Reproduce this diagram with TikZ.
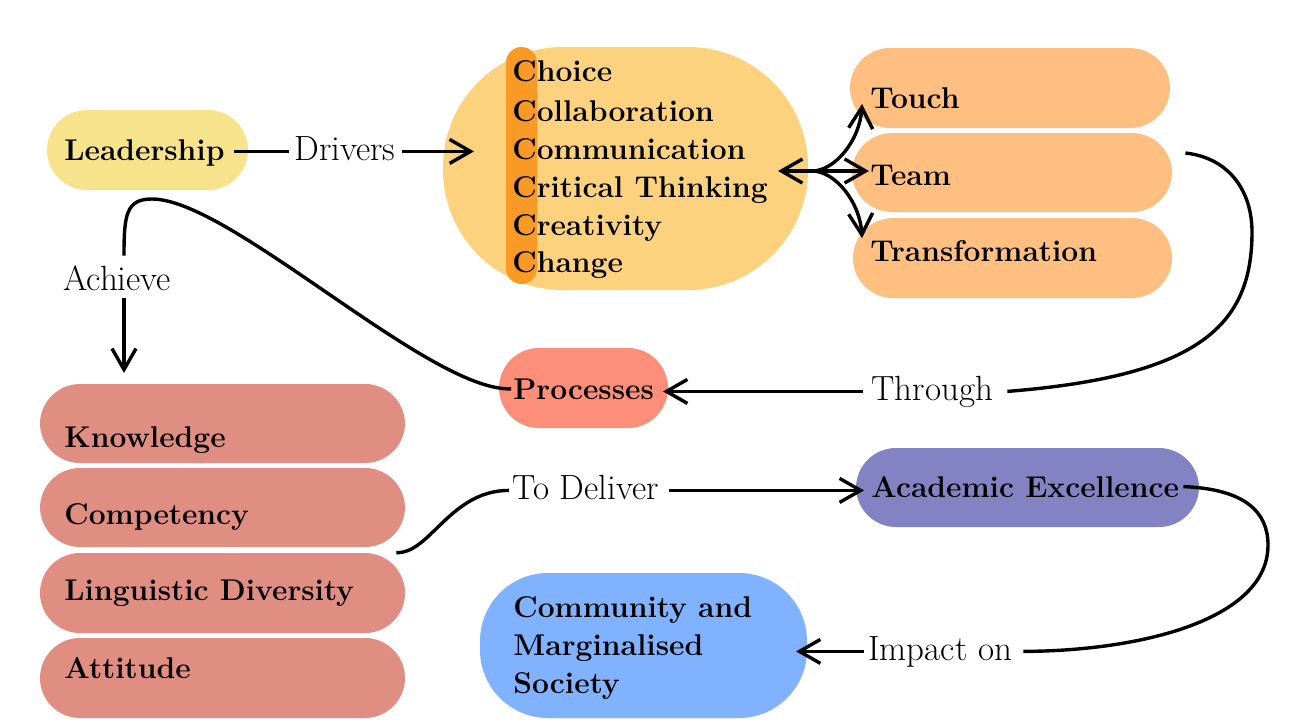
\documentclass[tikz,border=0pt]{standalone}
\usepackage{fontspec}
\usetikzlibrary{arrows.meta}
\definecolor{leadcol}{HTML}{F7E38B}
\definecolor{ccol}{HTML}{FDD27F}
\definecolor{stripcol}{HTML}{F99A26}
\definecolor{tcol}{HTML}{FFBF80}
\definecolor{proccol}{HTML}{FD8F7A}
\definecolor{stackcol}{HTML}{E08E82}
\definecolor{acadcol}{HTML}{8383C3}
\definecolor{commcol}{HTML}{80B2FF}
\tikzset{
  pill/.style={rectangle, inner sep=0pt, draw=none, rounded corners=#1},
  pill/.default=20pt,
  btxt/.style={anchor=base west, inner sep=0pt, font=\fontsize{15}{19}\selectfont\bfseries},
  ltxt/.style={anchor=base west, inner sep=0pt, text height=12pt, text depth=3.4pt, font=\fontsize{17.5}{20}\selectfont},
  conn/.style={line width=1.7pt, black},
  arr/.style={conn, -{Straight Barb[length=10.5pt,width=12pt]}},
}
\begin{document}
\begin{tikzpicture}[x=0.5pt,y=-0.5pt]
\useasboundingbox (0,0) rectangle (1311,724);
% boxes
\node[pill, fill=leadcol, minimum width=100.5pt, minimum height=40pt] (leadb) at (147.5,150) {};
\node[pill=60pt, fill=ccol, minimum width=182.5pt, minimum height=121.5pt] (cbox) at (625.5,168.5) {};
\node[pill=7.75pt, fill=stripcol, minimum width=15.5pt, minimum height=118.5pt] (strip) at (521.5,165.5) {};
\node[pill, fill=tcol, minimum width=160pt, minimum height=40pt] (touchb) at (1010,88) {};
\node[pill, fill=tcol, minimum width=160pt, minimum height=39.5pt] (teamb) at (1012,172.5) {};
\node[pill, fill=tcol, minimum width=159.5pt, minimum height=40pt] (transb) at (1012.5,258) {};
\node[pill, fill=proccol, minimum width=84.5pt, minimum height=40pt] (procb) at (583.5,388) {};
\node[pill, fill=stackcol, minimum width=182.5pt, minimum height=39.5pt] (knowb) at (222.5,423.5) {};
\node[pill, fill=stackcol, minimum width=182.5pt, minimum height=39.5pt] (compb) at (222.5,507.5) {};
\node[pill, fill=stackcol, minimum width=182.5pt, minimum height=40pt] (lingb) at (222.5,593) {};
\node[pill, fill=stackcol, minimum width=182.5pt, minimum height=40pt] (attb) at (222.5,678) {};
\node[pill, fill=acadcol, minimum width=171.5pt, minimum height=39.5pt] (acadb) at (1027.5,487.5) {};
\node[pill=34pt, fill=commcol, minimum width=163.5pt, minimum height=72.5pt] (commb) at (643.5,645.5) {};
% bold texts
\node[btxt] (leadt) at (64,160) {Leadership};
\node[btxt] (c1) at (512,81.7) {Choice};
\node[btxt] (c2) at (512,121) {Collaboration};
\node[btxt] (c3) at (512,159) {Communication};
\node[btxt] (c4) at (512,197) {Critical Thinking};
\node[btxt] (c5) at (512,235) {Creativity};
\node[btxt] (c6) at (512,272) {Change};
\node[btxt] (toucht) at (870,108) {Touch};
\node[btxt] (teamt) at (870,185) {Team};
\node[btxt] (transt) at (870,261) {Transformation};
\node[btxt] (proct) at (513,399) {Processes};
\node[btxt] (knowt) at (64,447) {Knowledge};
\node[btxt] (compt) at (64,524) {Competency};
\node[btxt] (lingt) at (64,600) {Linguistic Diversity};
\node[btxt] (attt) at (64,678) {Attitude};
\node[btxt] (acadt) at (871,497) {Academic Excellence};
\node[btxt] (comm1) at (513,617) {Community and};
\node[btxt] (comm2) at (513,655) {Marginalised};
\node[btxt] (comm3) at (513,693) {Society};
% labels
\node[ltxt] (drivers) at (294,160) {Drivers};
\node[ltxt] (achieve) at (63,290) {Achieve};
\node[ltxt] (through) at (871,400) {Through};
\node[ltxt] (deliver) at (512,499) {To Deliver};
\node[ltxt] (impact) at (868,660) {Impact on};
% coordinates
\coordinate (dtip) at (474,151.4);
\coordinate (hub) at (812,171);
\coordinate (ctip) at (778,171);
\coordinate (ttip) at (862,104);
\coordinate (mtip) at (869,171);
\coordinate (btip) at (862,238);
\coordinate (ptip) at (663,391.4);
\coordinate (ktip) at (124,373);
\coordinate (atip) at (864,490.4);
\coordinate (itip) at (796,651.4);
\coordinate (achtop) at (ktip |- achieve.north);
\coordinate (achbot) at (ktip |- achieve.south);
% connectors
\draw[conn] ([xshift=4.5pt]leadt.east |- drivers.west) -- ([xshift=-2.5pt]drivers.west);
\draw[arr] ([xshift=3pt]drivers.east) -- (dtip);
\draw[arr] (hub) -- (ctip);
\draw[arr] (hub) -- (mtip);
\draw[arr] (hub) .. controls (835,171) and (860,140) .. (ttip);
\draw[arr] (hub) .. controls (835,171) and (860,202) .. (btip);
\draw[conn] ([xshift=6.5pt,yshift=9.75pt]teamb.east) .. controls (1230,158) and (1252,192) .. (1252,232)
   .. controls (1252,325) and (1200,376) .. ([xshift=7pt]through.east);
\draw[arr] ([xshift=-4pt]through.west) -- (ptip);
\draw[conn] ([xshift=-1pt]proct.west) .. controls (430,392) and (230,199) .. (152,199)
   .. controls (126,199) and (124,215) .. ([yshift=5pt]achtop);
\draw[arr] ([yshift=-0.5pt]achbot) -- (ktip);
\draw[conn] ([xshift=-4.5pt]lingb.north east) .. controls (430,554) and (450,490.4) .. ([xshift=-1.5pt]deliver.west);
\draw[arr] ([xshift=5pt]deliver.east) -- (atip);
\draw[conn] ([xshift=2pt]acadt.east) .. controls (1245,489) and (1268,512) .. (1268,545)
   .. controls (1268,620) and (1140,651) .. ([xshift=5.5pt]impact.east);
\draw[arr] ([xshift=-2pt]impact.west) -- (itip);
\end{tikzpicture}
\end{document}
